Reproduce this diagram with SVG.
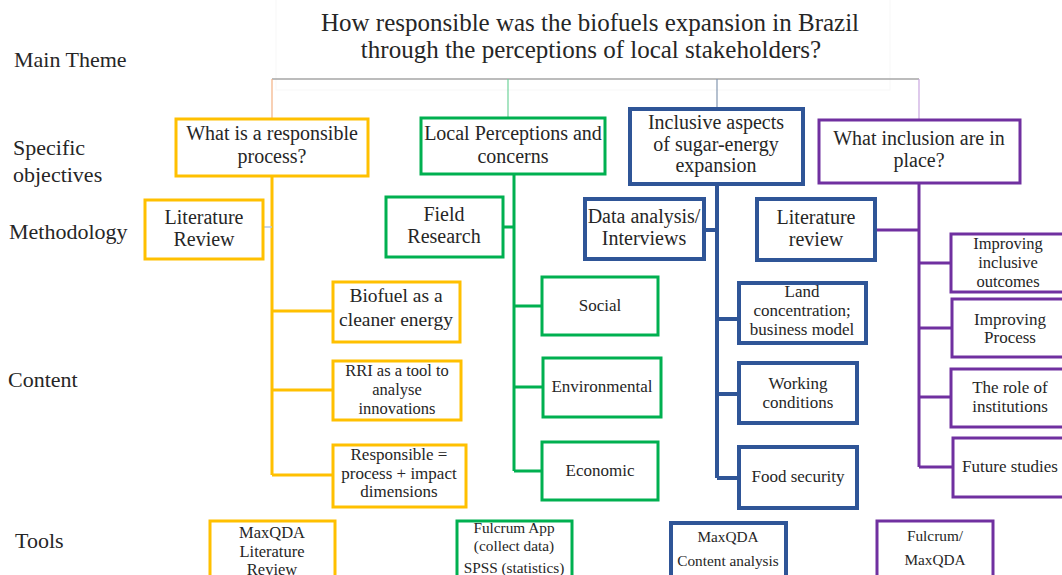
<svg xmlns="http://www.w3.org/2000/svg" width="1062" height="575" viewBox="0 0 1062 575">
  <style>
    text { font-family: "Liberation Serif", "Times New Roman", serif; fill: #262626; text-anchor: middle; }
    .side { font-size: 22px; text-anchor: start; }
    .title { font-size: 25px; }
    .b20 { font-size: 20px; }
    .b19 { font-size: 19.5px; }
    .b17 { font-size: 17px; }
    .b16 { font-size: 16.5px; }
    .b15 { font-size: 15.3px; }
    rect { fill: #ffffff; }
    .yel { stroke: #FFC000; stroke-width: 3; }
    .grn { stroke: #00B050; stroke-width: 3; }
    .blu { stroke: #2F5597; stroke-width: 4; }
    .pur { stroke: #7030A0; stroke-width: 3; }
    .wire { fill: none; }
  </style>

  <!-- row labels -->
  <g id="row-labels">
    <text class="side" x="14" y="67">Main Theme</text>
    <text class="side" x="13" y="155">Specific</text>
    <text class="side" x="13" y="182">objectives</text>
    <text class="side" x="9" y="239">Methodology</text>
    <text class="side" x="8" y="387">Content</text>
    <text class="side" x="15" y="548">Tools</text>
  </g>

  <!-- main question -->
  <g id="main-theme">
    <rect x="276" y="-2" width="614" height="92" fill="none" stroke="#f7f7f7" stroke-width="1"/>
    <text class="title" x="590" y="31">How responsible was the biofuels expansion in Brazil</text>
    <text class="title" x="591" y="58">through the perceptions of local stakeholders?</text>
  </g>

  <!-- connectors -->
  <g id="connectors" class="wire">
    <path d="M272 79 H919" stroke="#a6a6a6" stroke-width="1.5"/>
    <path d="M272 79 V119" stroke="#f4b183" stroke-width="1.2"/>
    <path d="M508 79 V118" stroke="#6fd39a" stroke-width="1.2"/>
    <path d="M717 79 V109" stroke="#8497b0" stroke-width="1.2"/>
    <path d="M919 79 V120" stroke="#c9a6e0" stroke-width="1.2"/>

    <!-- responsible process branch -->
    <path d="M272 176 V475 M272 311 H333 M272 390 H333 M272 475 H333" stroke="#FFC000" stroke-width="3"/>
    <path d="M263 227 H272" stroke="#b4c7e7" stroke-width="1.5"/>

    <!-- local perceptions branch -->
    <path d="M514 174 V471 M503 227 H514 M514 306 H542 M514 387 H543 M514 471 H542" stroke="#00B050" stroke-width="3"/>

    <!-- inclusive aspects branch -->
    <path d="M717 184 V478 M704 230 H717 M717 319 H739 M717 394 H739 M717 478 H739" stroke="#2F5597" stroke-width="4"/>

    <!-- inclusion in place branch -->
    <path d="M919 183 V467 M875 230 H919 M919 263 H951 M919 328 H952 M919 397 H951 M919 467 H953" stroke="#7030A0" stroke-width="3"/>
  </g>

  <!-- specific objectives -->
  <g id="obj-responsible">
    <rect class="yel" x="176" y="119" width="192" height="57"/>
    <text class="b20" x="272" y="140">What is a responsible</text>
    <text class="b20" x="272" y="163">process?</text>
  </g>
  <g id="obj-perceptions">
    <rect class="grn" x="421" y="118" width="184" height="56"/>
    <text class="b20" x="513" y="140">Local Perceptions and</text>
    <text class="b20" x="513" y="163">concerns</text>
  </g>
  <g id="obj-inclusive">
    <rect class="blu" x="630" y="109" width="173" height="75"/>
    <text class="b20" x="716" y="129">Inclusive aspects</text>
    <text class="b20" x="716" y="151">of sugar-energy</text>
    <text class="b20" x="716" y="172">expansion</text>
  </g>
  <g id="obj-inclusion">
    <rect class="pur" x="819" y="120" width="201" height="63"/>
    <text class="b20" x="919" y="145">What inclusion are in</text>
    <text class="b20" x="919" y="167">place?</text>
  </g>

  <!-- methodology -->
  <g id="meth-literature">
    <rect class="yel" x="145" y="200" width="118" height="59"/>
    <text class="b20" x="204" y="224">Literature</text>
    <text class="b20" x="204" y="246">Review</text>
  </g>
  <g id="meth-field">
    <rect class="grn" x="386" y="197" width="117" height="60"/>
    <text class="b20" x="444" y="221">Field</text>
    <text class="b20" x="444" y="243">Research</text>
  </g>
  <g id="meth-data">
    <rect class="blu" x="585" y="199" width="119" height="60"/>
    <text class="b20" x="644" y="223">Data analysis/</text>
    <text class="b20" x="644" y="245">Interviews</text>
  </g>
  <g id="meth-review">
    <rect class="blu" x="757" y="199" width="118" height="61"/>
    <text class="b20" x="816" y="224">Literature</text>
    <text class="b20" x="816" y="246">review</text>
  </g>

  <!-- content: responsible process -->
  <g id="c-biofuel">
    <rect class="yel" x="333" y="282" width="127" height="60"/>
    <text class="b19" x="396" y="302">Biofuel as a</text>
    <text class="b19" x="396" y="326">cleaner energy</text>
  </g>
  <g id="c-rri">
    <rect class="yel" x="333" y="361" width="128" height="59"/>
    <text class="b16" x="397" y="376">RRI as a tool to</text>
    <text class="b16" x="397" y="395">analyse</text>
    <text class="b16" x="397" y="414">innovations</text>
  </g>
  <g id="c-dimensions">
    <rect class="yel" x="333" y="445" width="133" height="62"/>
    <text class="b17" x="399" y="460">Responsible =</text>
    <text class="b17" x="399" y="479">process + impact</text>
    <text class="b17" x="399" y="497">dimensions</text>
  </g>

  <!-- content: local perceptions -->
  <g id="c-social">
    <rect class="grn" x="542" y="277" width="116" height="58"/>
    <text class="b17" x="600" y="311">Social</text>
  </g>
  <g id="c-environmental">
    <rect class="grn" x="543" y="358" width="118" height="59"/>
    <text class="b17" x="602" y="392">Environmental</text>
  </g>
  <g id="c-economic">
    <rect class="grn" x="542" y="442" width="116" height="58"/>
    <text class="b17" x="600" y="476">Economic</text>
  </g>

  <!-- content: inclusive aspects -->
  <g id="c-land">
    <rect class="blu" x="739" y="283" width="127" height="60"/>
    <text class="b17" x="802" y="297">Land</text>
    <text class="b17" x="802" y="316">concentration;</text>
    <text class="b17" x="802" y="335">business model</text>
  </g>
  <g id="c-working">
    <rect class="blu" x="739" y="363" width="118" height="60"/>
    <text class="b17" x="798" y="389">Working</text>
    <text class="b17" x="798" y="408">conditions</text>
  </g>
  <g id="c-food">
    <rect class="blu" x="739" y="447" width="118" height="61"/>
    <text class="b17" x="798" y="482">Food security</text>
  </g>

  <!-- content: inclusion in place -->
  <g id="c-outcomes">
    <rect class="pur" x="951" y="234" width="115" height="58"/>
    <text class="b16" x="1008" y="249">Improving</text>
    <text class="b16" x="1008" y="268">inclusive</text>
    <text class="b16" x="1008" y="287">outcomes</text>
  </g>
  <g id="c-process">
    <rect class="pur" x="952" y="299" width="114" height="58"/>
    <text class="b17" x="1010" y="325">Improving</text>
    <text class="b17" x="1010" y="343">Process</text>
  </g>
  <g id="c-institutions">
    <rect class="pur" x="951" y="369" width="115" height="58"/>
    <text class="b17" x="1010" y="393">The role of</text>
    <text class="b17" x="1010" y="412">institutions</text>
  </g>
  <g id="c-future">
    <rect class="pur" x="953" y="438" width="113" height="59"/>
    <text class="b17" x="1010" y="472">Future studies</text>
  </g>

  <!-- tools -->
  <g id="t-literature">
    <rect class="yel" x="210" y="521" width="125" height="64"/>
    <text class="b16" x="272" y="538">MaxQDA</text>
    <text class="b16" x="272" y="557">Literature</text>
    <text class="b16" x="272" y="575">Review</text>
  </g>
  <g id="t-fulcrum">
    <rect class="grn" x="457" y="521" width="115" height="64"/>
    <text class="b15" x="514" y="533">Fulcrum App</text>
    <text class="b15" x="514" y="551">(collect data)</text>
    <text class="b15" x="514" y="573">SPSS (statistics)</text>
  </g>
  <g id="t-content">
    <rect class="blu" x="671" y="523" width="115" height="64"/>
    <text class="b15" x="728" y="542">MaxQDA</text>
    <text class="b15" x="728" y="566">Content analysis</text>
  </g>
  <g id="t-fulcrum-maxqda">
    <rect class="pur" x="877" y="521" width="116" height="64"/>
    <text class="b15" x="935" y="541">Fulcrum/</text>
    <text class="b15" x="935" y="565">MaxQDA</text>
  </g>
</svg>
